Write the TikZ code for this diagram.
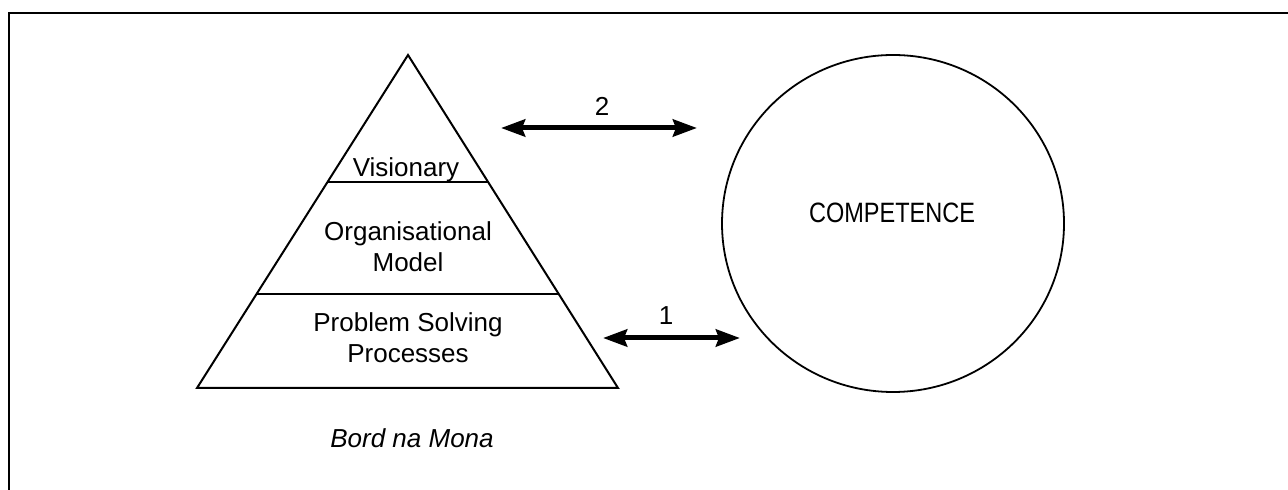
\documentclass[tikz,border=0pt]{standalone}
\usepackage{fontspec}
\setmainfont{Liberation Sans}
\newfontfamily\narrowfont[FakeStretch=0.84]{Liberation Sans}
\usetikzlibrary{arrows.meta,calc}
\begin{document}
\begin{tikzpicture}[x=0.5pt,y=-0.5pt,
  outline/.style={line width=1pt, line join=miter},
  txt/.style={font=\fontsize{13}{15.75}\selectfont, inner sep=0pt, anchor=base, align=center},
  num/.style={font=\fontsize{13}{15}\selectfont, inner sep=0pt, anchor=base},
  link/.style={line width=2.5pt,
    {Stealth[length=12pt,width=8.5pt,inset=1.5pt]}-{Stealth[length=12pt,width=8.5pt,inset=1.5pt]}}]
  \useasboundingbox (0,0) rectangle (1288,490);

  % frame
  \draw[line width=1pt] (9,495) -- (9,13) -- (1295,13);

  % pyramid
  \coordinate (apex) at (408,55);
  \coordinate (bl) at (197,388);
  \coordinate (br) at (618,388);
  \draw[outline] (apex) -- (bl) -- (br) -- cycle;
  \draw[outline] ($(apex)!0.3814!(bl)$) -- ($(apex)!0.3814!(br)$);
  \draw[outline] ($(apex)!0.7177!(bl)$) -- ($(apex)!0.7177!(br)$);

  % layer labels (base anchor sits on the last line)
  \node[txt] (vis) at (406,176.7) {Visionary};
  \node[txt] (org) at (408,271.7) {Organisational\\Model};
  \node[txt] (psp) at (408,362.7) {Problem Solving\\Processes};
  \node[txt, font=\fontsize{13}{15.75}\selectfont\itshape] (bnm) at (412,447.7) {Bord na Mona};

  % competence circle
  \draw[line width=0.9pt] (893,223.5) ellipse [x radius=171, y radius=168.5];
  \node[inner sep=0pt, anchor=base, font=\narrowfont\fontsize{14}{16}\selectfont] (comp) at (892,222.7) {COMPETENCE};

  % links
  \coordinate (a2l) at (501,128);
  \coordinate (a2r) at (697,128);
  \coordinate (a1l) at (603,338);
  \coordinate (a1r) at (740,338);
  \draw[link] (a2l) -- (a2r);
  \draw[link] (a1l) -- (a1r);
  \node[num] (n2) at (602,115.5) {2};
  \node[num] (n1) at (666,325) {1};
\end{tikzpicture}
\end{document}
